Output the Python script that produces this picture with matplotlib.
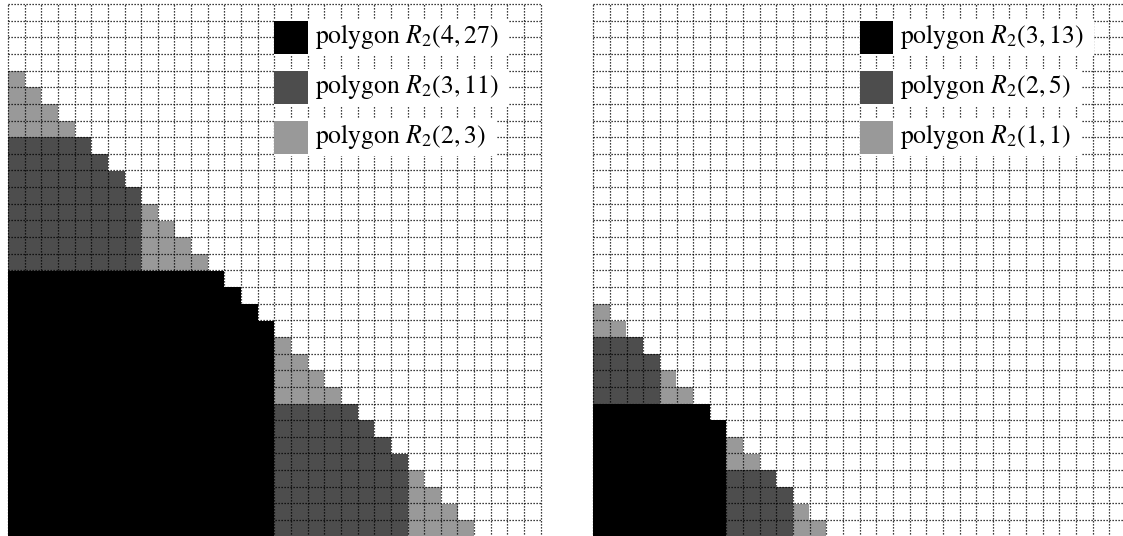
import numpy as np
import matplotlib
matplotlib.use("Agg")
import matplotlib.pyplot as plt
from matplotlib.colors import ListedColormap
from matplotlib.patches import Rectangle

plt.rcParams['font.family'] = ['STIXGeneral', 'DejaVu Serif']
plt.rcParams['mathtext.fontset'] = 'stix'

# board size (cells per side) and fill colours: black, dark gray, light gray
GRID = 32
fill_colors = ['#000000', '#4d4d4d', '#999999']

# polygon R_2(n, k) = cells (i, j) of the 2^n square with i + j <= k,
# placed at the given lower-left offsets
left_params = [(4, 27), (3, 11), (2, 3)]
left_offsets = [[(0, 0)],
                [(0, 16), (16, 0)],
                [(0, 24), (8, 16), (16, 8), (24, 0)]]

right_params = [(3, 13), (2, 5), (1, 1)]
right_offsets = [[(0, 0)],
                 [(0, 8), (8, 0)],
                 [(0, 12), (4, 8), (8, 4), (12, 0)]]


def build_board(params, offsets):
    board = np.zeros((GRID, GRID))
    for idx, ((n, k), offs) in enumerate(zip(params, offsets)):
        side = 2 ** n
        for ox, oy in offs:
            for i in range(side):
                for j in range(side):
                    if i + j <= k:
                        board[oy + j, ox + i] = idx + 1
    return board


def draw_panel(fig, ax, params, offsets):
    board = build_board(params, offsets)
    cmap = ListedColormap(['white'] + fill_colors)
    ax.imshow(board, origin='lower', extent=(0, GRID, 0, GRID), cmap=cmap,
              vmin=-0.5, vmax=3.5, interpolation='nearest', aspect='auto', zorder=1)

    ticks = np.arange(GRID + 1)
    ax.vlines(ticks, 0, GRID, colors='black', linewidth=0.9,
              linestyles=(0, (1.0, 1.4)), zorder=2, clip_on=False)
    ax.hlines(ticks, 0, GRID, colors='black', linewidth=0.9,
              linestyles=(0, (1.0, 1.4)), zorder=2, clip_on=False)

    # legend entries drawn as cells in the upper right
    renderer = fig.canvas.get_renderer()
    inv = ax.transData.inverted()
    for idx, (n, k) in enumerate(params):
        y0 = GRID - 3 - 3 * idx
        t = ax.text(18.45, y0 + 1.05, f'polygon $R_2({n},{k})$', fontsize=18.5,
                    va='center', ha='left', zorder=5)
        bb = t.get_window_extent(renderer=renderer)
        x_right = inv.transform((bb.x1, bb.y1))[0]
        ax.add_patch(Rectangle((16, y0 - 0.12), x_right + 0.6 - 16, 2.24,
                               facecolor='white', edgecolor='none', zorder=3))
        ax.add_patch(Rectangle((16, y0), 2, 2, facecolor=fill_colors[idx],
                               edgecolor='none', zorder=4))

    ax.set_xlim(0, GRID)
    ax.set_ylim(0, GRID)
    ax.axis('off')


fig = plt.figure(figsize=(11.23, 5.36), dpi=100)
W, H = 1123, 536
size = 532.7
ax_left = fig.add_axes([8 / W, (H - 4 - size) / H, size / W, size / H])
ax_right = fig.add_axes([593.3 / W, (H - 4 - size) / H, size / W, size / H])

draw_panel(fig, ax_left, left_params, left_offsets)
draw_panel(fig, ax_right, right_params, right_offsets)

fig.savefig('out.png', dpi=100)
